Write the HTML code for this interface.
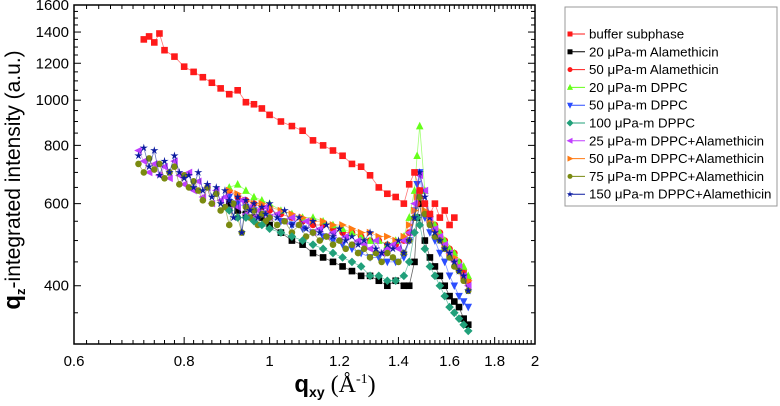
<!DOCTYPE html>
<html><head><meta charset="utf-8"><style>
body{margin:0;background:#fff;font-family:"Liberation Sans",sans-serif}
svg{display:block}
</style></head><body>
<svg id="chart" width="780" height="406" xmlns="http://www.w3.org/2000/svg">
<g id="plot"></g>
<g id="axes"></g>
<g id="legend"></g>
<text x="20" y="180" transform="rotate(-90 20 180)" text-anchor="middle" font-size="21" fill="#000"><tspan font-weight="bold" font-size="24">q</tspan><tspan font-size="13" dy="5" font-weight="bold">z</tspan><tspan dy="-5">-integrated intensity (a.u.)</tspan></text>
<text x="335" y="392" text-anchor="middle" font-size="22" fill="#000"><tspan font-weight="bold" font-size="24">q</tspan><tspan font-size="14" font-weight="bold" dy="5">xy</tspan><tspan dy="-5" font-family="Liberation Serif" font-size="24">  (Å</tspan><tspan font-family="Liberation Serif" font-size="14" dy="-9">-1</tspan><tspan font-family="Liberation Serif" font-size="24" dy="9">)</tspan></text>
</svg>
<script>
const xBuffer=[0.72,0.73,0.74,0.75,0.76,0.78,0.8,0.82,0.84,0.86,0.88,0.9,0.92,0.94,0.96,0.98,1.0,1.03,1.06,1.09,1.12,1.15,1.18,1.21,1.24,1.27,1.3,1.33,1.36,1.39,1.42,1.44,1.46,1.48,1.5,1.52,1.54,1.56,1.58,1.6,1.62];
const yBuffer=[1350,1370,1330,1390,1280,1240,1180,1150,1120,1090,1060,1030,1050,990,980,960,930,900,880,860,820,800,780,760,730,720,690,650,630,620,600,660,700,640,600,570,600,560,580,540,560];
const xLong=[0.71,0.72,0.73,0.74,0.75,0.76,0.77,0.78,0.79,0.8,0.81,0.82,0.83,0.84,0.85,0.86,0.87,0.88,0.89,0.9,0.91,0.92,0.93,0.94,0.95,0.96,0.97,0.98,0.99,1.0,
1.02,1.04,1.06,1.08,1.1,1.12,1.14,1.16,1.18,1.2,1.22,1.24,1.26,1.28,1.3,1.32,1.34,1.36,1.38,1.4,1.42,1.44,1.46,1.48,1.5,1.52,1.54,1.56,1.58,1.6,1.62,1.64,1.66,1.68];
const xShort=[0.9,0.92,0.94,0.96,0.98,1.0,1.03,1.06,1.09,1.12,1.15,1.18,1.21,1.24,1.27,1.3,1.33,1.36,1.39,1.42,1.44,1.46,1.47,1.48,1.5,1.52,1.54,1.56,1.58,1.6,1.62,1.64,1.66,1.68];
const yAlam20=[600,580,570,560,560,540,520,500,490,470,460,450,440,430,420,420,410,400,410,400,400,450,560,600,500,460,440,420,400,380,370,360,340,330];
const yAlam50=[640,620,610,600,590,580,570,560,550,540,540,530,520,520,510,500,500,490,490,500,520,560,600,640,600,560,540,520,500,480,470,450,430,410];
const yDppc20=[650,660,640,620,610,600,580,570,560,560,550,540,530,520,510,500,500,490,500,510,560,640,760,880,640,560,540,520,500,480,470,450,440,420];
const yDppc50=[620,600,590,580,570,560,550,540,530,520,510,500,490,480,470,460,460,450,450,460,500,580,660,700,560,520,500,470,450,420,400,380,370,360];
const yDppc100=[580,560,560,550,540,530,520,510,500,490,480,470,460,450,440,420,420,410,410,420,450,520,560,540,480,440,420,400,380,360,350,340,330,320];
const yMix25=[780,740,700,730,690,720,680,740,690,660,700,640,670,620,650,600,640,610,620,580,600,590,610,570,590,560,580,570,590,560,
570,550,560,540,550,520,530,510,520,500,510,490,500,490,480,500,470,480,490,480,500,520,600,690,640,560,530,510,490,470,450,440,420,400];
const yMix50=[640,630,610,600,600,590,580,570,560,550,550,540,540,530,520,520,510,510,500,510,540,580,620,620,580,550,530,510,490,470,460,440,420,410];
const yMix75=[730,700,750,710,730,680,700,720,660,690,650,670,640,610,650,600,630,580,590,540,600,560,520,590,560,580,540,570,550,560,
540,550,520,540,510,520,500,510,490,500,480,490,470,480,460,470,450,470,460,450,470,500,560,620,570,540,510,500,480,460,440,430,410,390];
const yMix150=[760,790,720,780,690,740,700,760,700,680,690,650,700,640,660,620,650,600,640,610,560,620,520,610,580,600,560,590,570,600,
560,580,540,560,530,550,520,540,510,530,500,510,490,500,520,480,470,490,480,500,470,500,560,700,620,560,520,500,480,470,450,430,420,390];
const xTicks=[0.6,0.8,1,1.2,1.4,1.6,1.8,2];
const yTicks=[400,600,800,1000,1200,1400,1600];
const seriesNames=["buffer subphase","20 μPa-m Alamethicin","50 μPa-m Alamethicin","20 μPa-m DPPC","50 μPa-m DPPC","100 μPa-m DPPC","25 μPa-m DPPC+Alamethicin","50 μPa-m DPPC+Alamethicin","75 μPa-m DPPC+Alamethicin","150 μPa-m DPPC+Alamethicin"];

const NS="http://www.w3.org/2000/svg";
const L=74,R=535,T=5,B=344,xmin=0.6,xmax=2,ymin=300,ymax=1600;
const sx=v=>L+(R-L)*Math.log10(v/xmin)/Math.log10(xmax/xmin);
const sy=v=>B-(B-T)*Math.log10(v/ymin)/Math.log10(ymax/ymin);
function mk(tag,attrs,parent){const e=document.createElementNS(NS,tag);for(const k in attrs)e.setAttribute(k,attrs[k]);parent.appendChild(e);return e;}
function marker(shape,cx,cy,color,parent,s){
  s=s||3.3;let e;
  if(shape==="square")e=mk("rect",{x:cx-s,y:cy-s,width:2*s,height:2*s,fill:color},parent);
  else if(shape==="circle")e=mk("circle",{cx:cx,cy:cy,r:s,fill:color},parent);
  else{let p;
    if(shape==="up")p=[[0,-s-1],[s+0.5,s],[-s-0.5,s]];
    else if(shape==="down")p=[[0,s+1],[s+0.5,-s],[-s-0.5,-s]];
    else if(shape==="left")p=[[-s-1,0],[s,-s-0.5],[s,s+0.5]];
    else if(shape==="right")p=[[s+1,0],[-s,-s-0.5],[-s,s+0.5]];
    else if(shape==="diamond")p=[[0,-s-1],[s+1,0],[0,s+1],[-s-1,0]];
    else {p=[];for(let i=0;i<10;i++){const r=i%2?s*0.45:s+1;const a=-Math.PI/2+i*Math.PI/5;p.push([r*Math.cos(a),r*Math.sin(a)]);}}
    e=mk("polygon",{points:p.map(q=>(cx+q[0])+","+(cy+q[1])).join(" "),fill:color},parent);}
  return e;
}
const series=[
 {xs:xShort,ys:yAlam20,c:"#000000",m:"square"},
 {xs:xShort,ys:yAlam50,c:"#ff1a1a",m:"circle"},
 {xs:xShort,ys:yDppc20,c:"#66ff1a",m:"up"},
 {xs:xShort,ys:yDppc50,c:"#2b4dff",m:"down"},
 {xs:xShort,ys:yMix50,c:"#ff7a12",m:"right"},
 {xs:xLong,ys:yMix25,c:"#c03fff",m:"left"},
 {xs:xLong,ys:yMix75,c:"#7a8a10",m:"circle"},
 {xs:xShort,ys:yDppc100,c:"#20a07a",m:"diamond"},
 {xs:xLong,ys:yMix150,c:"#0a1aa0",m:"star"},
 {xs:xBuffer,ys:yBuffer,c:"#ff1a1a",m:"square"}
];
const plot=document.getElementById("plot");
series.forEach((s,si)=>{
  const g=mk("g",{},plot);
  
  
  const pl=mk("polyline",{points:s.xs.map((x,i)=>sx(x)+","+sy(s.ys[i])).join(" "),fill:"none",stroke:s.c,"stroke-width":0.8,"stroke-opacity":0.6},g);
  
  
  s.xs.forEach((x,i)=>{
    const e=marker(s.m,sx(x),sy(s.ys[i]),s.c,g);
    
    
  });
});
const axes=document.getElementById("axes");
const fr=mk("rect",{x:L,y:T,width:R-L,height:B-T,fill:"none",stroke:"#000","stroke-width":1.5},axes);


for(let v=0.6;v<=2.001;v+=0.02){const X=sx(v);const major=xTicks.some(t=>Math.abs(t-v)<1e-6);const len=major?7:4;
  mk("line",{x1:X,y1:B,x2:X,y2:B-len,stroke:"#000","stroke-width":1},axes);
  mk("line",{x1:X,y1:T,x2:X,y2:T+len,stroke:"#000","stroke-width":1},axes);}
xTicks.forEach(t=>{const e=mk("text",{x:sx(t),y:B+22,"text-anchor":"middle","font-size":15,fill:"#000"},axes);e.textContent=String(t);
  
  });
for(let v=300;v<=1600;v+=50){const Y=sy(v);const major=yTicks.includes(v);const len=major?7:4;
  mk("line",{x1:L,y1:Y,x2:L+len,y2:Y,stroke:"#000","stroke-width":1},axes);
  mk("line",{x1:R,y1:Y,x2:R-len,y2:Y,stroke:"#000","stroke-width":1},axes);}
yTicks.forEach(t=>{const e=mk("text",{x:L-5,y:sy(t)+5,"text-anchor":"end","font-size":15,fill:"#000"},axes);e.textContent=String(t);
  
  });
const leg=document.getElementById("legend");
const lb=mk("rect",{x:565,y:7,width:212,height:199,fill:"#fff",stroke:"#999","stroke-width":1},leg);


const legStyle=[["#ff1a1a","square"],["#000000","square"],["#ff1a1a","circle"],["#66ff1a","up"],["#2b4dff","down"],["#20a07a","diamond"],["#c03fff","left"],["#ff7a12","right"],["#7a8a10","circle"],["#0a1aa0","star"]];
seriesNames.forEach((n,i)=>{
  const y=34+i*17.8;
  const g=mk("g",{},leg);
  
  
  mk("line",{x1:568,y1:y,x2:585,y2:y,stroke:legStyle[i][0],"stroke-width":1},g);
  marker(legStyle[i][1],570,y,legStyle[i][0],g,2.5);
  const t=mk("text",{x:589,y:y+4.5,"font-size":13.3,fill:"#000"},g);t.textContent=n;
});
</script>
</body></html>
